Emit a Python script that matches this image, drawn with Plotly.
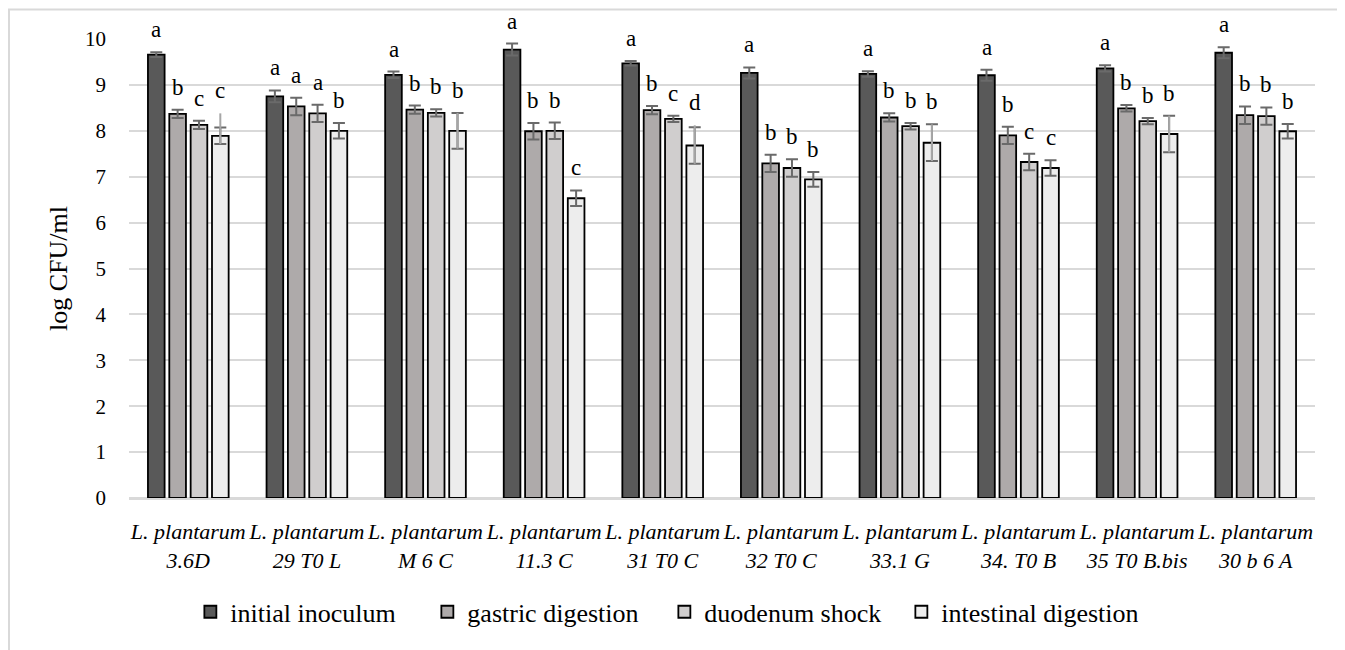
import plotly.graph_objects as go

strains = ["3.6D", "29 T0 L", "M 6 C", "11.3 C", "31 T0 C",
           "32 T0 C", "33.1 G", "34. T0 B", "35 T0 B.bis", "30 b 6 A"]
tick_labels = ["L. plantarum<br>" + s for s in strains]

series_names = ["initial inoculum", "gastric digestion", "duodenum shock", "intestinal digestion"]

initial = [9.66, 8.75, 9.22, 9.77, 9.47, 9.26, 9.24, 9.21, 9.36, 9.70]
initial_err = [0.05, 0.13, 0.07, 0.13, 0.05, 0.12, 0.06, 0.12, 0.07, 0.12]
gastric = [8.37, 8.53, 8.46, 7.99, 8.45, 7.29, 8.29, 7.90, 8.49, 8.34]
gastric_err = [0.09, 0.19, 0.09, 0.18, 0.09, 0.19, 0.09, 0.19, 0.07, 0.19]
duodenum = [8.13, 8.38, 8.39, 8.00, 8.26, 7.19, 8.10, 7.32, 8.21, 8.32]
duodenum_err = [0.09, 0.19, 0.08, 0.18, 0.07, 0.19, 0.07, 0.18, 0.07, 0.19]
intestinal = [7.89, 8.00, 8.00, 6.53, 7.68, 6.94, 7.74, 7.19, 7.93, 7.99]
intestinal_err = [0.18, 0.17, 0.39, 0.17, 0.40, 0.16, 0.40, 0.17, 0.40, 0.16]
# lighter secondary error lines seen on some intestinal bars
intestinal_err2_up = [0.49, None, 0.39, None, 0.44, None, 0.40, None, 0.40, None]

letters_initial = ["a", "a", "a", "a", "a", "a", "a", "a", "a", "a"]
letters_gastric = ["b", "a", "b", "b", "b", "b", "b", "b", "b", "b"]
letters_duodenum = ["c", "a", "b", "b", "c", "b", "b", "c", "b", "b"]
letters_intestinal = ["c", "b", "b", "c", "d", "b", "b", "c", "b", "b"]

colors = ["#595959", "#aeaaaa", "#d0cece", "#ededed"]
SERIF = "Liberation Serif"
ERR_COL = "#6a6a6a"

values = [initial, gastric, duodenum, intestinal]
errs = [initial_err, gastric_err, duodenum_err, intestinal_err]
letters = [letters_initial, letters_gastric, letters_duodenum, letters_intestinal]

fig = go.Figure()
for i in range(4):
    fig.add_trace(go.Bar(
        x=strains, y=values[i], name=series_names[i], offsetgroup=str(i),
        marker=dict(color=colors[i], line=dict(color="#000000", width=1.8)),
        error_y=dict(type="data", array=errs[i], symmetric=True,
                     color=ERR_COL, thickness=2, width=6),
    ))

# light secondary error lines on intestinal bars (overlay, same offset group)
y2 = [v if e is not None else None for v, e in zip(intestinal, intestinal_err2_up)]
up2 = [e if e is not None else 0 for e in intestinal_err2_up]
fig.add_trace(go.Bar(
    x=strains, y=y2, offsetgroup="3", showlegend=False, hoverinfo="skip",
    marker=dict(color="rgba(0,0,0,0)", line=dict(width=0)),
    error_y=dict(type="data", array=up2, arrayminus=intestinal_err, symmetric=False,
                 color="#a6a6a6", thickness=2, width=0),
))

# significance letters
shifts = [-32, -10.7, 10.7, 32]
for i in range(4):
    for j, s in enumerate(strains):
        top = values[i][j] + errs[i][j]
        if i == 3 and intestinal_err2_up[j] is not None:
            top = max(top, intestinal[j] + intestinal_err2_up[j])
        fig.add_annotation(x=s, y=top, text=letters[i][j], showarrow=False,
                           xshift=shifts[i], yshift=8, yanchor="bottom",
                           font=dict(family=SERIF, size=23, color="#000000"))

# outer chart border
fig.add_shape(type="rect", xref="paper", yref="paper",
              x0=-0.1012, x1=1.0211, y0=-0.36, y1=1.0641,
              line=dict(color="#d9d9d9", width=2), fillcolor="rgba(0,0,0,0)", layer="below")

fig.update_layout(
    width=1345, height=650,
    margin=dict(l=121, r=38, t=30.5, b=159.5),
    paper_bgcolor="#ffffff", plot_bgcolor="#ffffff",
    barmode="group", bargap=0.28, bargroupgap=0.22,
    showlegend=True,
    legend=dict(orientation="h", xref="container", yref="container",
                x=0.488, xanchor="center", y=0.071, yanchor="middle",
                font=dict(family=SERIF, size=26, color="#000000"),
                entrywidth=192, traceorder="normal"),
    font=dict(family=SERIF, color="#000000"),
    xaxis=dict(tickmode="array", tickvals=strains, ticktext=tick_labels,
               tickfont=dict(family=SERIF, size=22, style="italic", color="#000000"),
               showgrid=False, showline=True, linecolor="#d9d9d9", linewidth=1.5,
               ticks="", ticklabelstandoff=13),
    yaxis=dict(range=[0, 10], dtick=1, tickfont=dict(family=SERIF, size=21, color="#000000"),
               showgrid=True, gridcolor="#d9d9d9", gridwidth=1.5,
               zeroline=True, zerolinecolor="#d9d9d9", zerolinewidth=1.5,
               ticks="", ticklabelstandoff=22,
               title=dict(text="log CFU/ml", font=dict(family=SERIF, size=26, color="#000000"),
                          standoff=9)),
)

fig.write_html("out.html")
